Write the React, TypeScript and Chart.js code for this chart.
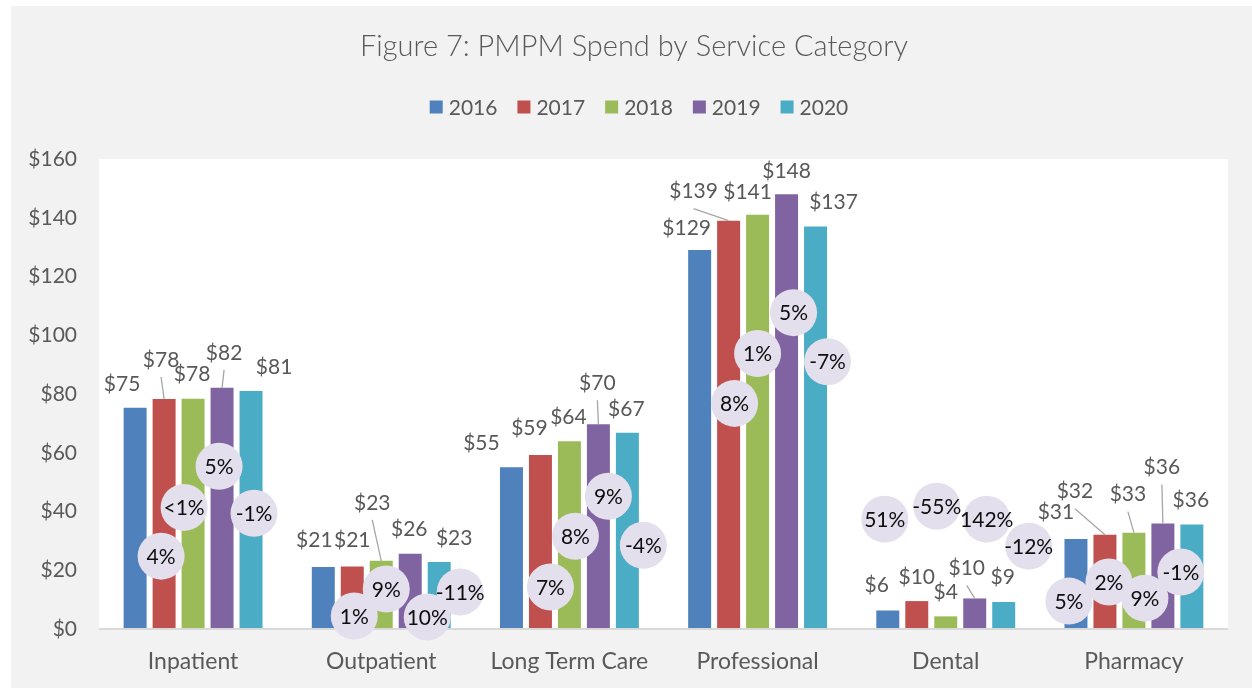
import React, { useEffect, useRef } from "react";
import { Chart, registerables } from "chart.js";

Chart.register(...registerables);

// ---------- data ----------
const TITLE = "Figure 7: PMPM Spend by Service Category";
const CATEGORIES = ["Inpatient", "Outpatient", "Long Term Care", "Professional", "Dental", "Pharmacy"];
const YEARS = ["2016", "2017", "2018", "2019", "2020"];

const SPEND_2016 = [75.3, 21.1, 55.1, 129, 6.3, 30.6];
const SPEND_2017 = [78.3, 21.3, 59.2, 139, 9.5, 32.1];
const SPEND_2018 = [78.4, 23.2, 63.9, 141, 4.3, 32.8];
const SPEND_2019 = [82.1, 25.6, 69.7, 148, 10.4, 35.9];
const SPEND_2020 = [81.0, 22.8, 66.8, 137, 9.2, 35.6];

// year-over-year change labels (2017 vs 2016, ... 2020 vs 2019)
const CHANGE_2017 = ["4%", "1%", "7%", "8%", "51%", "5%"];
const CHANGE_2018 = ["<1%", "9%", "8%", "1%", "-55%", "2%"];
const CHANGE_2019 = ["5%", "10%", "9%", "5%", "142%", "9%"];
const CHANGE_2020 = ["-1%", "-11%", "-4%", "-7%", "-12%", "-1%"];

const Y_MIN = 0;
const Y_MAX = 160;
const Y_STEP = 20;

// ---------- styles ----------
const COLORS = ["#4F81BD", "#C0504D", "#9BBB59", "#8064A2", "#4BACC6"];
const FONT = "Lato, 'Open Sans', sans-serif";
const TEXT_GRAY = "#595959";
const BUBBLE_FILL = "#E4DFEC";
const PAGE_GRAY = "#F2F2F2";

// ---------- label layout (manual Excel label placement) ----------
// value labels: [dx px from bar centre, dy px from bar top, leader line]
const VALUE_LABEL_LAYOUT: [number, number, boolean][][] = [
  [[-13, -25, false], [-9, -28, false], [-30, -25, false], [-13, -23, false], [-11, -26, false], [-20, -28, false]],
  [[-3, -40, true], [0, -27, false], [-11, -28, false], [-35, -30, true], [0, -25, false], [-30, -44, true]],
  [[-1, -25, false], [-9, -59, true], [-1, -25, false], [-10, -24, false], [0, -25, false], [-6, -39, true]],
  [[2, -36, true], [-1, -26, false], [-1, -42, true], [0, -24, false], [-8, -31, true], [-1, -57, true]],
  [[23, -25, false], [15, -25, false], [-1, -25, false], [18, -25, false], [-1, -26, false], [-1, -25, false]],
];
// change bubbles: [dx px from that year's bar centre, vertical position in $ units]
const BUBBLE_LAYOUT: [number, number][][] = [
  [[-3, 24.8], [2, 4.4], [10, 14.3], [6, 76.8], [-32, 37.4], [-36, 9.5]],
  [[-9, 41.4], [5, 13.6], [6, 31.6], [0, 93.8], [-9, 41.8], [-25, 16.0]],
  [[-3, 55.4], [17, 4.1], [10, 45.2], [7, 107.7], [12, 37.4], [-18, 10.5]],
  [[3, 39.4], [21, 12.6], [16, 28.5], [12, 91.0], [25, 28.2], [-11, 19.4]],
];

const SERIES = [SPEND_2016, SPEND_2017, SPEND_2018, SPEND_2019, SPEND_2020];
const CHANGES = [CHANGE_2017, CHANGE_2018, CHANGE_2019, CHANGE_2020];

const fmtDollar = (v: number) => "$" + Math.round(v);

const decorPlugin = {
  id: "decor",
  beforeDraw(chart: any) {
    const { ctx, width, height, chartArea } = chart;
    ctx.save();
    ctx.fillStyle = "#FFFFFF";
    ctx.fillRect(0, 0, width, height);
    ctx.fillStyle = PAGE_GRAY;
    ctx.fillRect(11, 6, width - 11, height - 6);
    ctx.fillStyle = "#FFFFFF";
    ctx.fillRect(chartArea.left, chartArea.top, chartArea.right - chartArea.left, chartArea.bottom - chartArea.top);
    ctx.restore();
  },
  afterDatasetsDraw(chart: any) {
    const { ctx, chartArea } = chart;
    const yScale = chart.scales.y;
    ctx.save();
    // axis line
    ctx.fillStyle = "#D9D9D9";
    ctx.fillRect(chartArea.left, chartArea.bottom - 1, chartArea.right - chartArea.left, 2);

    // value labels + leader lines
    ctx.font = `21px ${FONT}`;
    ctx.textAlign = "center";
    ctx.textBaseline = "middle";
    SERIES.forEach((vals, d) => {
      const meta = chart.getDatasetMeta(d);
      vals.forEach((v, i) => {
        const bar = meta.data[i];
        const [dx, dy, leader] = VALUE_LABEL_LAYOUT[d][i];
        const lx = bar.x + dx;
        const ly = bar.y + dy;
        if (leader) {
          ctx.strokeStyle = "#A6A6A6";
          ctx.lineWidth = 1.3;
          ctx.beginPath();
          ctx.moveTo(lx, ly + 18);
          ctx.lineTo(bar.x, bar.y);
          ctx.stroke();
        }
        ctx.fillStyle = TEXT_GRAY;
        ctx.fillText(fmtDollar(v), lx, ly + 1);
      });
    });

    // change bubbles
    CHANGES.forEach((labels, k) => {
      const meta = chart.getDatasetMeta(k + 1);
      labels.forEach((txt, i) => {
        const bar = meta.data[i];
        const [dx, yv] = BUBBLE_LAYOUT[k][i];
        const cx = bar.x + dx;
        const cy = yScale.getPixelForValue(yv);
        ctx.fillStyle = BUBBLE_FILL;
        ctx.beginPath();
        ctx.arc(cx, cy, 23.5, 0, Math.PI * 2);
        ctx.fill();
        ctx.fillStyle = "#0D0D0D";
        ctx.fillText(txt, cx, cy + 1);
      });
    });
    ctx.restore();
  },
  afterDraw(chart: any) {
    const { ctx } = chart;
    ctx.save();
    // title
    ctx.fillStyle = TEXT_GRAY;
    ctx.font = `300 29px ${FONT}`;
    ctx.textAlign = "center";
    ctx.textBaseline = "middle";
    ctx.fillText(TITLE, 634, 47);

    // legend
    ctx.font = `21px ${FONT}`;
    const box = 13, gap = 6, spacing = 20;
    const widths = YEARS.map((y) => box + gap + ctx.measureText(y).width);
    const total = widths.reduce((a, b) => a + b, 0) + spacing * (YEARS.length - 1);
    let x = 639 - total / 2;
    const cy = 107;
    ctx.textAlign = "left";
    YEARS.forEach((y, i) => {
      ctx.fillStyle = COLORS[i];
      ctx.fillRect(x, cy - box / 2, box, box);
      ctx.fillStyle = TEXT_GRAY;
      ctx.fillText(y, x + box + gap, cy + 1);
      x += widths[i] + spacing;
    });
    ctx.restore();
  },
};

export default function App() {
  const ref = useRef<HTMLCanvasElement | null>(null);
  useEffect(() => {
    if (!ref.current) return;
    const chart = new Chart(ref.current, {
      type: "bar",
      data: {
        labels: CATEGORIES,
        datasets: SERIES.map((vals, d) => ({
          label: YEARS[d],
          data: vals,
          backgroundColor: COLORS[d],
          borderWidth: 0,
          categoryPercentage: 0.77,
          barPercentage: 0.793,
        })),
      },
      options: {
        responsive: false,
        animation: false,
        events: [],
        layout: { padding: { top: 159, left: 0, right: 24, bottom: 0 } },
        plugins: { legend: { display: false }, title: { display: false }, tooltip: { enabled: false } },
        scales: {
          x: {
            grid: { display: false, drawTicks: false },
            border: { display: false },
            ticks: { color: TEXT_GRAY, font: { family: FONT, size: 23 }, padding: 19, maxRotation: 0 },
            afterFit: (s: any) => { s.height = 59; },
          },
          y: {
            min: Y_MIN,
            max: Y_MAX,
            grid: { display: false, drawTicks: false },
            border: { display: false },
            ticks: {
              stepSize: Y_STEP,
              color: TEXT_GRAY,
              font: { family: FONT, size: 21 },
              padding: 22,
              callback: (v: any) => "$" + v,
            },
            afterFit: (s: any) => { s.width = 99; },
          },
        },
      },
      plugins: [decorPlugin],
    });
    return () => chart.destroy();
  }, []);
  return (
    <div style={{ position: "fixed", left: 0, top: 0, width: 1252, height: 688 }}>
      <canvas ref={ref} width={1252} height={688} style={{ display: "block" }} />
    </div>
  );
}
